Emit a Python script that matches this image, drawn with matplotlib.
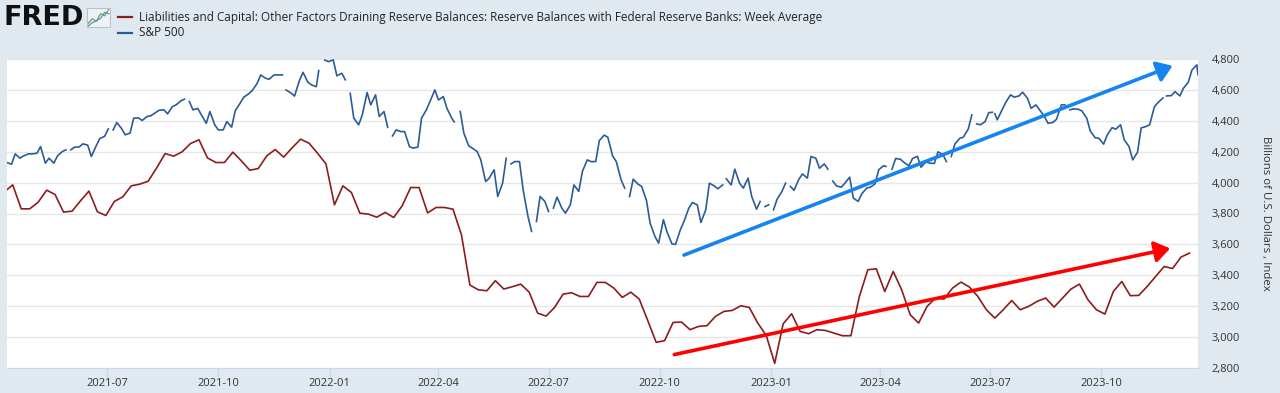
import numpy as np
import pandas as pd
import matplotlib
matplotlib.use("Agg")
import matplotlib.pyplot as plt
import matplotlib.dates as mdates
from matplotlib.lines import Line2D
from matplotlib.ticker import FuncFormatter

# weekly average reserve balances (Wednesdays), billions of US$
reserve_start = "2021-04-07"
reserve_values = [
    3940, 3985, 3830, 3830, 3873, 3951, 3923, 3809, 3815, 3882, 3945, 3811, 3787,
    3878, 3908, 3979, 3990, 4009, 4095, 4188, 4171, 4199, 4253, 4277, 4160, 4130,
    4130, 4197, 4141, 4080, 4091, 4173, 4214, 4165, 4225, 4281, 4255, 4190, 4121,
    3856, 3979, 3936, 3802, 3796, 3776, 3807, 3774, 3850, 3968, 3968, 3804, 3839,
    3839, 3828, 3662, 3337, 3306, 3300, 3365, 3311, 3326, 3343, 3291, 3155, 3136,
    3192, 3278, 3287, 3263, 3263, 3354, 3354, 3317, 3257, 3291, 3246, 3108,
    2966, 2977, 3095, 3097, 3048, 3069, 3074, 3134, 3166, 3173, 3203, 3192, 3091,
    3011, 2830, 3086, 3151, 3037, 3022, 3048, 3043, 3026, 3009, 3009, 3263, 3436,
    3442, 3295, 3425, 3306, 3145, 3091, 3199, 3253, 3246, 3317, 3356, 3324,
    3263, 3177, 3123, 3177, 3237, 3177, 3199, 3231, 3253, 3194, 3253, 3311, 3343,
    3242, 3177, 3149, 3295, 3360, 3268, 3270, 3328, 3393, 3457, 3444, 3518, 3544,
]

# S&P 500 read twice a week (Tuesday and Friday closes); nan = market closed
nan = np.nan
spx_fri_start = "2021-04-09"
spx_fri = [
    4130, 4186, 4173, 4186, 4233, 4158, 4173, 4212, 4229, 4251, 4169, 4285, 4348,
    4389, 4309, 4417, 4402, 4432, 4468, 4445, 4503, 4540, 4471, 4438, 4460, 4341,
    4395, 4466, 4553, 4596, 4697, 4669, 4697, 4600, 4560, 4714, 4632, nan, 4783,
    4691, 4665, 4417, 4438, 4503, 4428, 4358, 4341, 4330, 4223, 4417, 4525, 4535,
    4481, nan, 4320, 4223, 4147, 4029, 3910, 4158, 4136, 3953, 3684, 3910, 3813,
    3906, 3802, 3985, 4072, 4136, 4272, 4294, 4136, 3964, 4022, 3975, 3737, 3608,
    3680, 3600, 3748, 3871, 3742, 3996, 3960, 4024, 4087, 3964, 3910, 3878, 3856,
    3893, 3996, 3950, 4056, 4169, 4093, 4087, 3979, 3996, 3900, 3927, 3970, 4083,
    nan, 4156, 4130, 4156, 4100, 4126, 4199, 4136, 4250, 4294, 4438, 4374, 4453,
    4406, 4518, 4553, 4585, 4481, 4471, 4384, 4410, 4503, 4477, 4464, 4333, 4287,
    4309, 4346, 4277, 4147, 4354, 4374, 4518, 4561, 4589, 4611, 4729,
]
spx_tue_start = "2021-04-13"
spx_tue = [
    4119, 4158, 4186, 4190, 4126, 4126, 4201, 4212, 4231, 4242, 4238, 4300, 4341,
    4350, 4320, 4419, 4428, 4453, 4471, 4492, 4529, 4525, 4480, 4384, 4374, 4341,
    4359, 4514, 4574, 4641, 4675, 4697, 4697, 4580, 4660, 4650, 4621, 4793, 4794,
    4708, 4578, 4374, 4583, 4568, 4460, 4302, 4330, 4233, 4230, 4471, 4600, 4557,
    4417, 4460, 4238, 4201, 4007, 4083, 3996, 4121, 4136, 3781, 3748, 3878, 3835,
    3835, 3856, 3943, 4147, 4136, 4307, 4173, 4018, 3910, 3990, 3884, 3651, 3760,
    3604, 3695, 3835, 3856, 3824, 3979, 3985, 3985, 3996, 4029, 3828, 3845, 3824,
    3943, 3975, 4022, 4029, 4158, 4121, 4010, 3970, 4035, 3878, 3964, 3992, 4109,
    4087, 4151, 4109, 4170, 4134, 4124, 4182, 4169, 4287, 4346, 4380, 4395, nan,
    4471, 4568, 4561, 4546, 4503, 4428, 4389, 4503, 4471, 4475, 4417, 4290, 4249,
    4356, 4374, 4233, 4197, 4363, 4492, 4548, 4563, 4561, 4650, 4762,
]
# extra closes read next to the holidays that fall on a Tuesday or Friday
spx_extra_dates = ["2021-12-23", "2022-04-14", "2023-04-06", "2023-07-03",
                   "2023-07-05", "2023-12-20"]
spx_extra = [4725, 4393, 4105, 4455, 4446, 4698]
market_holidays = [
    "2021-05-31", "2021-07-05", "2021-09-06", "2021-11-25", "2022-01-17",
    "2022-02-21", "2022-05-30", "2022-06-20", "2022-07-04", "2022-09-05",
    "2022-11-24", "2022-12-26", "2023-01-02", "2023-01-16", "2023-02-20",
    "2023-05-29", "2023-06-19", "2023-09-04", "2023-11-23",
]

x_start, x_end = "2021-04-09", "2023-12-20"
y_ticks = list(range(2800, 4801, 200))
legend_labels = [
    "Liabilities and Capital: Other Factors Draining Reserve Balances: "
    "Reserve Balances with Federal Reserve Banks: Week Average",
    "S&P 500",
]
y_label = "Billions of U.S. Dollars , Index"

# trend arrows drawn on the original (start date, value) -> (end date, value)
blue_arrow = (("2022-10-21", 3531), ("2023-11-29", 4756))
red_arrow = (("2022-10-13", 2887), ("2023-11-27", 3574))

RED = "#8a1d1d"
BLUE = "#2c5c96"
BG = "#e1e9f0"
FONT = ["Open Sans", "DejaVu Sans"]


def build_series():
    reserves = pd.Series(
        reserve_values,
        index=pd.date_range(reserve_start, periods=len(reserve_values), freq="W-WED"),
    )
    fri = pd.Series(spx_fri, index=pd.date_range(spx_fri_start, periods=len(spx_fri), freq="W-FRI"))
    tue = pd.Series(spx_tue, index=pd.date_range(spx_tue_start, periods=len(spx_tue), freq="W-TUE"))
    extra = pd.Series(spx_extra, index=pd.to_datetime(spx_extra_dates))
    closed = pd.Series(np.nan, index=pd.to_datetime(market_holidays))
    spx = pd.concat([fri, tue, extra, closed]).sort_index()
    return reserves, spx


def draw_header(fig):
    fig.text(4 / 1280, 1 - 18 / 393, "FRED", fontsize=19.5, fontweight="bold",
             family="DejaVu Sans", color="#111111", va="center", ha="left")
    # little chart icon next to the logo
    icon = fig.add_axes([87 / 1280, 1 - 27 / 393, 23 / 1280, 19 / 393])
    icon.set_facecolor("#eef2f5")
    for s in icon.spines.values():
        s.set_color("#b9c3cc")
    icon.plot([0, 1, 2, 3, 4, 5], [1, 2, 1.5, 3, 2.6, 4], color="#6aa84f", lw=0.9)
    icon.plot([0, 1, 2, 3, 4, 5], [0.5, 1.2, 1.6, 2.1, 3.3, 3.0], color="#5b8dc9", lw=0.9)
    icon.set_xticks([])
    icon.set_yticks([])

    for label, color, y in zip(legend_labels, [RED, BLUE], [17, 33]):
        yf = 1 - y / 393
        fig.add_artist(Line2D([118 / 1280, 132 / 1280], [yf, yf], color=color, lw=1.6))
        fig.text(139 / 1280, yf, label, fontsize=8.45, family=FONT, color="#222222",
                 va="center", ha="left")


def main():
    reserves, spx = build_series()

    fig = plt.figure(figsize=(12.8, 3.93), dpi=100, facecolor=BG)
    ax = fig.add_axes([6.7 / 1280, 1 - 368 / 393, (1198 - 6.7) / 1280, (368 - 59) / 393])
    ax.set_facecolor("white")

    ax.plot(reserves.index, reserves.values, color=RED, lw=1.2, zorder=3)
    ax.plot(spx.index, spx.values, color=BLUE, lw=1.2, zorder=3)

    for (s, sv), (e, ev), color in [(blue_arrow[0], blue_arrow[1], "#1584ee"),
                                     (red_arrow[0], red_arrow[1], "#ff0000")]:
        ax.annotate("", xy=(mdates.date2num(pd.Timestamp(e)), ev),
                    xytext=(mdates.date2num(pd.Timestamp(s)), sv),
                    arrowprops=dict(arrowstyle="-|>,head_length=0.65,head_width=0.45",
                                    color=color, lw=2.6, mutation_scale=14,
                                    shrinkA=0, shrinkB=0),
                    zorder=4)

    ax.set_xlim(pd.Timestamp(x_start), pd.Timestamp(x_end))
    ax.set_ylim(y_ticks[0], y_ticks[-1])

    ax.set_yticks(y_ticks)
    ax.yaxis.set_major_formatter(FuncFormatter(lambda v, p: f"{int(v):,}"))
    ax.yaxis.tick_right()
    ax.tick_params(axis="y", length=0, pad=10, labelsize=8, labelcolor="#333333")
    ax.grid(True, axis="y", color="#e6e6e6", lw=1)
    ax.set_axisbelow(True)

    ax.xaxis.set_major_locator(mdates.MonthLocator(bymonth=[1, 4, 7, 10]))
    ax.xaxis.set_major_formatter(mdates.DateFormatter("%Y-%m"))
    ax.tick_params(axis="x", length=6.5, width=1, color="#ccd6eb", pad=1,
                   labelsize=8, labelcolor="#333333")

    for side in ["top", "left", "right"]:
        ax.spines[side].set_visible(False)
    ax.spines["bottom"].set_color("#ccd6eb")

    for lbl in ax.get_xticklabels() + ax.get_yticklabels():
        lbl.set_family(FONT)

    fig.text(1265 / 1280, 1 - 213 / 393, y_label, rotation=270, fontsize=8.2,
             family=FONT, color="#333333", va="center", ha="center")

    draw_header(fig)

    fig.savefig("out.png", dpi=100, facecolor=BG)


if __name__ == "__main__":
    main()
